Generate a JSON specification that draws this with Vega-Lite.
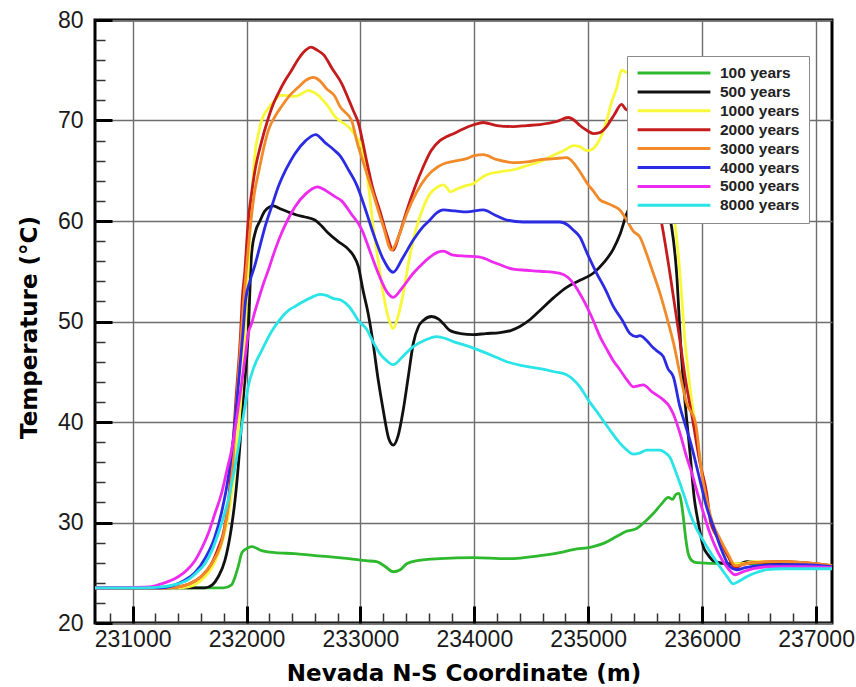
{
"$schema": "https://vega.github.io/schema/vega-lite/v6.json",
"width": 737, "height": 603,
"autosize": {"type": "none"},
"padding": {"left": 95, "top": 20, "right": 24, "bottom": 64},
"background": "white",
"config": {"view": {"stroke": "black", "strokeWidth": 3}, "font": "Liberation Sans"},
"datasets": {"curves": [
{"series":"100 years","x":230670,"t":23.5},{"series":"100 years","x":231500,"t":23.5},{"series":"100 years","x":231800,"t":23.5},{"series":"100 years","x":231869,"t":23.8},{"series":"100 years","x":231900,"t":24.6},{"series":"100 years","x":231927,"t":25.6},{"series":"100 years","x":231960,"t":27.0},{"series":"100 years","x":232000,"t":27.4},{"series":"100 years","x":232045,"t":27.6},{"series":"100 years","x":232133,"t":27.2},{"series":"100 years","x":232250,"t":27.0},{"series":"100 years","x":232425,"t":26.9},{"series":"100 years","x":232600,"t":26.7},{"series":"100 years","x":232717,"t":26.6},{"series":"100 years","x":232900,"t":26.4},{"series":"100 years","x":233050,"t":26.2},{"series":"100 years","x":233142,"t":26.1},{"series":"100 years","x":233220,"t":25.6},{"series":"100 years","x":233288,"t":25.1},{"series":"100 years","x":233350,"t":25.3},{"series":"100 years","x":233406,"t":25.9},{"series":"100 years","x":233500,"t":26.2},{"series":"100 years","x":233698,"t":26.4},{"series":"100 years","x":233990,"t":26.5},{"series":"100 years","x":234284,"t":26.4},{"series":"100 years","x":234576,"t":26.7},{"series":"100 years","x":234750,"t":27.0},{"series":"100 years","x":234869,"t":27.3},{"series":"100 years","x":235044,"t":27.6},{"series":"100 years","x":235150,"t":28.0},{"series":"100 years","x":235249,"t":28.6},{"series":"100 years","x":235330,"t":29.1},{"series":"100 years","x":235425,"t":29.4},{"series":"100 years","x":235500,"t":30.1},{"series":"100 years","x":235571,"t":30.9},{"series":"100 years","x":235640,"t":31.8},{"series":"100 years","x":235703,"t":32.5},{"series":"100 years","x":235740,"t":32.3},{"series":"100 years","x":235770,"t":32.8},{"series":"100 years","x":235798,"t":32.9},{"series":"100 years","x":235820,"t":31.8},{"series":"100 years","x":235834,"t":30.6},{"series":"100 years","x":235855,"t":28.5},{"series":"100 years","x":235878,"t":26.9},{"series":"100 years","x":235910,"t":26.2},{"series":"100 years","x":235952,"t":26.0},{"series":"100 years","x":236186,"t":25.9},{"series":"100 years","x":236400,"t":25.9},{"series":"100 years","x":236700,"t":25.9},{"series":"100 years","x":237140,"t":25.7},
{"series":"500 years","x":230670,"t":23.5},{"series":"500 years","x":231500,"t":23.5},{"series":"500 years","x":231635,"t":23.5},{"series":"500 years","x":231700,"t":23.8},{"series":"500 years","x":231752,"t":24.6},{"series":"500 years","x":231810,"t":26.2},{"series":"500 years","x":231869,"t":29.6},{"series":"500 years","x":231900,"t":32.3},{"series":"500 years","x":231927,"t":35.5},{"series":"500 years","x":231971,"t":42.2},{"series":"500 years","x":232015,"t":48.8},{"series":"500 years","x":232045,"t":56.8},{"series":"500 years","x":232080,"t":59.0},{"series":"500 years","x":232118,"t":60.0},{"series":"500 years","x":232162,"t":61.0},{"series":"500 years","x":232235,"t":61.5},{"series":"500 years","x":232300,"t":61.2},{"series":"500 years","x":232366,"t":60.9},{"series":"500 years","x":232440,"t":60.6},{"series":"500 years","x":232513,"t":60.4},{"series":"500 years","x":232600,"t":60.1},{"series":"500 years","x":232660,"t":59.5},{"series":"500 years","x":232717,"t":58.8},{"series":"500 years","x":232800,"t":58.0},{"series":"500 years","x":232893,"t":57.2},{"series":"500 years","x":232937,"t":56.6},{"series":"500 years","x":232981,"t":55.5},{"series":"500 years","x":233025,"t":53.0},{"series":"500 years","x":233068,"t":50.8},{"series":"500 years","x":233112,"t":47.8},{"series":"500 years","x":233156,"t":44.2},{"series":"500 years","x":233200,"t":41.2},{"series":"500 years","x":233250,"t":38.3},{"series":"500 years","x":233288,"t":37.7},{"series":"500 years","x":233330,"t":38.6},{"series":"500 years","x":233376,"t":41.2},{"series":"500 years","x":233420,"t":44.5},{"series":"500 years","x":233464,"t":47.8},{"series":"500 years","x":233510,"t":49.5},{"series":"500 years","x":233552,"t":50.1},{"series":"500 years","x":233625,"t":50.5},{"series":"500 years","x":233690,"t":50.2},{"series":"500 years","x":233727,"t":49.8},{"series":"500 years","x":233786,"t":49.1},{"series":"500 years","x":233880,"t":48.8},{"series":"500 years","x":233990,"t":48.7},{"series":"500 years","x":234100,"t":48.8},{"series":"500 years","x":234225,"t":48.9},{"series":"500 years","x":234320,"t":49.1},{"series":"500 years","x":234400,"t":49.5},{"series":"500 years","x":234490,"t":50.2},{"series":"500 years","x":234576,"t":51.1},{"series":"500 years","x":234700,"t":52.4},{"series":"500 years","x":234810,"t":53.4},{"series":"500 years","x":234927,"t":54.1},{"series":"500 years","x":235044,"t":54.8},{"series":"500 years","x":235140,"t":55.9},{"series":"500 years","x":235220,"t":57.2},{"series":"500 years","x":235280,"t":58.7},{"series":"500 years","x":235337,"t":60.7},{"series":"500 years","x":235400,"t":62.3},{"series":"500 years","x":235480,"t":63.5},{"series":"500 years","x":235560,"t":64.0},{"series":"500 years","x":235650,"t":63.0},{"series":"500 years","x":235700,"t":61.0},{"series":"500 years","x":235732,"t":59.4},{"series":"500 years","x":235776,"t":54.8},{"series":"500 years","x":235810,"t":48.0},{"series":"500 years","x":235850,"t":42.0},{"series":"500 years","x":235893,"t":37.0},{"series":"500 years","x":235930,"t":32.5},{"series":"500 years","x":235966,"t":30.0},{"series":"500 years","x":236010,"t":27.6},{"series":"500 years","x":236050,"t":26.8},{"series":"500 years","x":236098,"t":26.2},{"series":"500 years","x":236215,"t":25.9},{"series":"500 years","x":236300,"t":25.8},{"series":"500 years","x":236391,"t":26.1},{"series":"500 years","x":236500,"t":26.0},{"series":"500 years","x":236700,"t":25.9},{"series":"500 years","x":237140,"t":25.7},
{"series":"1000 years","x":230670,"t":23.5},{"series":"1000 years","x":231400,"t":23.5},{"series":"1000 years","x":231488,"t":23.6},{"series":"1000 years","x":231560,"t":23.9},{"series":"1000 years","x":231635,"t":24.6},{"series":"1000 years","x":231700,"t":25.6},{"series":"1000 years","x":231752,"t":26.9},{"series":"1000 years","x":231800,"t":28.6},{"series":"1000 years","x":231839,"t":30.6},{"series":"1000 years","x":231880,"t":33.8},{"series":"1000 years","x":231913,"t":37.2},{"series":"1000 years","x":231945,"t":41.5},{"series":"1000 years","x":231971,"t":45.5},{"series":"1000 years","x":232000,"t":52.0},{"series":"1000 years","x":232030,"t":59.0},{"series":"1000 years","x":232074,"t":66.7},{"series":"1000 years","x":232103,"t":68.6},{"series":"1000 years","x":232133,"t":70.0},{"series":"1000 years","x":232190,"t":71.2},{"series":"1000 years","x":232249,"t":72.0},{"series":"1000 years","x":232300,"t":72.5},{"series":"1000 years","x":232337,"t":72.5},{"series":"1000 years","x":232425,"t":72.4},{"series":"1000 years","x":232490,"t":72.7},{"series":"1000 years","x":232542,"t":73.0},{"series":"1000 years","x":232590,"t":72.8},{"series":"1000 years","x":232630,"t":72.5},{"series":"1000 years","x":232680,"t":71.9},{"series":"1000 years","x":232717,"t":71.4},{"series":"1000 years","x":232776,"t":70.4},{"series":"1000 years","x":232830,"t":69.9},{"series":"1000 years","x":232893,"t":69.4},{"series":"1000 years","x":232950,"t":68.6},{"series":"1000 years","x":233010,"t":67.4},{"series":"1000 years","x":233060,"t":64.5},{"series":"1000 years","x":233112,"t":59.4},{"series":"1000 years","x":233160,"t":55.8},{"series":"1000 years","x":233200,"t":52.8},{"series":"1000 years","x":233250,"t":50.2},{"series":"1000 years","x":233288,"t":49.3},{"series":"1000 years","x":233330,"t":50.5},{"series":"1000 years","x":233376,"t":52.8},{"series":"1000 years","x":233430,"t":56.3},{"series":"1000 years","x":233493,"t":59.4},{"series":"1000 years","x":233550,"t":61.3},{"series":"1000 years","x":233610,"t":62.7},{"series":"1000 years","x":233680,"t":63.4},{"series":"1000 years","x":233727,"t":63.6},{"series":"1000 years","x":233760,"t":63.3},{"series":"1000 years","x":233786,"t":62.9},{"series":"1000 years","x":233850,"t":63.2},{"series":"1000 years","x":233920,"t":63.5},{"series":"1000 years","x":233990,"t":63.7},{"series":"1000 years","x":234050,"t":64.2},{"series":"1000 years","x":234108,"t":64.6},{"series":"1000 years","x":234220,"t":64.9},{"series":"1000 years","x":234342,"t":65.1},{"series":"1000 years","x":234460,"t":65.5},{"series":"1000 years","x":234576,"t":65.9},{"series":"1000 years","x":234650,"t":66.3},{"series":"1000 years","x":234723,"t":66.7},{"series":"1000 years","x":234800,"t":67.1},{"series":"1000 years","x":234869,"t":67.5},{"series":"1000 years","x":234927,"t":67.4},{"series":"1000 years","x":234986,"t":67.0},{"series":"1000 years","x":235030,"t":67.1},{"series":"1000 years","x":235074,"t":67.6},{"series":"1000 years","x":235120,"t":68.6},{"series":"1000 years","x":235161,"t":70.0},{"series":"1000 years","x":235210,"t":72.0},{"series":"1000 years","x":235249,"t":73.2},{"series":"1000 years","x":235293,"t":75.0},{"series":"1000 years","x":235337,"t":74.8},{"series":"1000 years","x":235400,"t":74.8},{"series":"1000 years","x":235500,"t":74.5},{"series":"1000 years","x":235600,"t":71.5},{"series":"1000 years","x":235680,"t":66.0},{"series":"1000 years","x":235720,"t":63.0},{"series":"1000 years","x":235761,"t":59.8},{"series":"1000 years","x":235805,"t":54.8},{"series":"1000 years","x":235849,"t":48.1},{"series":"1000 years","x":235893,"t":43.5},{"series":"1000 years","x":235942,"t":39.5},{"series":"1000 years","x":235990,"t":35.5},{"series":"1000 years","x":236040,"t":32.6},{"series":"1000 years","x":236080,"t":30.0},{"series":"1000 years","x":236156,"t":28.0},{"series":"1000 years","x":236229,"t":26.6},{"series":"1000 years","x":236290,"t":25.9},{"series":"1000 years","x":236350,"t":25.9},{"series":"1000 years","x":236449,"t":26.1},{"series":"1000 years","x":236683,"t":26.1},{"series":"1000 years","x":236900,"t":26.0},{"series":"1000 years","x":237140,"t":25.7},
{"series":"2000 years","x":230670,"t":23.5},{"series":"2000 years","x":231300,"t":23.5},{"series":"2000 years","x":231400,"t":23.6},{"series":"2000 years","x":231500,"t":23.9},{"series":"2000 years","x":231600,"t":24.6},{"series":"2000 years","x":231693,"t":25.9},{"series":"2000 years","x":231750,"t":27.4},{"series":"2000 years","x":231796,"t":28.9},{"series":"2000 years","x":231835,"t":31.5},{"series":"2000 years","x":231869,"t":35.5},{"series":"2000 years","x":231907,"t":42.2},{"series":"2000 years","x":231948,"t":48.8},{"series":"2000 years","x":231962,"t":52.1},{"series":"2000 years","x":231986,"t":55.1},{"series":"2000 years","x":232015,"t":60.0},{"series":"2000 years","x":232045,"t":62.8},{"series":"2000 years","x":232074,"t":65.0},{"series":"2000 years","x":232130,"t":67.8},{"series":"2000 years","x":232185,"t":70.0},{"series":"2000 years","x":232230,"t":71.5},{"series":"2000 years","x":232279,"t":72.7},{"series":"2000 years","x":232340,"t":74.0},{"series":"2000 years","x":232396,"t":75.0},{"series":"2000 years","x":232460,"t":76.2},{"series":"2000 years","x":232520,"t":77.0},{"series":"2000 years","x":232565,"t":77.3},{"series":"2000 years","x":232620,"t":77.0},{"series":"2000 years","x":232680,"t":76.5},{"series":"2000 years","x":232750,"t":75.2},{"series":"2000 years","x":232835,"t":73.7},{"series":"2000 years","x":232900,"t":72.0},{"series":"2000 years","x":232937,"t":71.0},{"series":"2000 years","x":232981,"t":69.8},{"series":"2000 years","x":233054,"t":66.0},{"series":"2000 years","x":233110,"t":63.2},{"series":"2000 years","x":233171,"t":61.0},{"series":"2000 years","x":233230,"t":58.7},{"series":"2000 years","x":233288,"t":57.1},{"series":"2000 years","x":233340,"t":58.6},{"series":"2000 years","x":233406,"t":61.0},{"series":"2000 years","x":233480,"t":63.4},{"series":"2000 years","x":233552,"t":65.4},{"series":"2000 years","x":233620,"t":67.0},{"series":"2000 years","x":233698,"t":68.0},{"series":"2000 years","x":233757,"t":68.4},{"series":"2000 years","x":233800,"t":68.6},{"series":"2000 years","x":233873,"t":69.0},{"series":"2000 years","x":233950,"t":69.4},{"series":"2000 years","x":234000,"t":69.6},{"series":"2000 years","x":234078,"t":69.8},{"series":"2000 years","x":234200,"t":69.5},{"series":"2000 years","x":234342,"t":69.4},{"series":"2000 years","x":234460,"t":69.5},{"series":"2000 years","x":234576,"t":69.6},{"series":"2000 years","x":234723,"t":69.9},{"series":"2000 years","x":234824,"t":70.3},{"series":"2000 years","x":234880,"t":70.0},{"series":"2000 years","x":234927,"t":69.5},{"series":"2000 years","x":234990,"t":69.0},{"series":"2000 years","x":235044,"t":68.7},{"series":"2000 years","x":235100,"t":68.8},{"series":"2000 years","x":235161,"t":69.4},{"series":"2000 years","x":235230,"t":70.6},{"series":"2000 years","x":235293,"t":71.6},{"series":"2000 years","x":235330,"t":71.1},{"series":"2000 years","x":235351,"t":71.0},{"series":"2000 years","x":235400,"t":70.0},{"series":"2000 years","x":235470,"t":67.5},{"series":"2000 years","x":235550,"t":64.0},{"series":"2000 years","x":235644,"t":59.8},{"series":"2000 years","x":235717,"t":54.8},{"series":"2000 years","x":235805,"t":48.1},{"series":"2000 years","x":235850,"t":44.5},{"series":"2000 years","x":235920,"t":40.0},{"series":"2000 years","x":235980,"t":36.0},{"series":"2000 years","x":236040,"t":32.9},{"series":"2000 years","x":236075,"t":30.0},{"series":"2000 years","x":236156,"t":28.2},{"series":"2000 years","x":236229,"t":26.6},{"series":"2000 years","x":236290,"t":25.5},{"series":"2000 years","x":236350,"t":25.8},{"series":"2000 years","x":236449,"t":26.0},{"series":"2000 years","x":236683,"t":26.1},{"series":"2000 years","x":236900,"t":26.0},{"series":"2000 years","x":237140,"t":25.7},
{"series":"3000 years","x":230670,"t":23.5},{"series":"3000 years","x":231300,"t":23.5},{"series":"3000 years","x":231400,"t":23.6},{"series":"3000 years","x":231500,"t":23.9},{"series":"3000 years","x":231600,"t":24.6},{"series":"3000 years","x":231700,"t":26.0},{"series":"3000 years","x":231800,"t":28.9},{"series":"3000 years","x":231845,"t":32.0},{"series":"3000 years","x":231878,"t":35.5},{"series":"3000 years","x":231915,"t":42.2},{"series":"3000 years","x":231955,"t":48.8},{"series":"3000 years","x":231975,"t":52.1},{"series":"3000 years","x":231998,"t":55.1},{"series":"3000 years","x":232039,"t":60.0},{"series":"3000 years","x":232070,"t":62.8},{"series":"3000 years","x":232109,"t":65.0},{"series":"3000 years","x":232150,"t":67.2},{"series":"3000 years","x":232191,"t":69.0},{"series":"3000 years","x":232250,"t":70.4},{"series":"3000 years","x":232308,"t":71.4},{"series":"3000 years","x":232380,"t":72.5},{"series":"3000 years","x":232454,"t":73.3},{"series":"3000 years","x":232520,"t":74.0},{"series":"3000 years","x":232586,"t":74.3},{"series":"3000 years","x":232640,"t":74.0},{"series":"3000 years","x":232700,"t":73.2},{"series":"3000 years","x":232776,"t":72.4},{"series":"3000 years","x":232820,"t":71.4},{"series":"3000 years","x":232923,"t":70.0},{"series":"3000 years","x":232967,"t":68.0},{"series":"3000 years","x":233040,"t":65.3},{"series":"3000 years","x":233112,"t":62.7},{"series":"3000 years","x":233200,"t":59.5},{"series":"3000 years","x":233274,"t":57.1},{"series":"3000 years","x":233330,"t":58.3},{"series":"3000 years","x":233406,"t":60.7},{"series":"3000 years","x":233490,"t":62.8},{"series":"3000 years","x":233581,"t":64.4},{"series":"3000 years","x":233680,"t":65.4},{"series":"3000 years","x":233757,"t":65.8},{"series":"3000 years","x":233850,"t":66.0},{"series":"3000 years","x":233932,"t":66.2},{"series":"3000 years","x":234000,"t":66.5},{"series":"3000 years","x":234078,"t":66.6},{"series":"3000 years","x":234200,"t":66.1},{"series":"3000 years","x":234371,"t":65.8},{"series":"3000 years","x":234480,"t":65.9},{"series":"3000 years","x":234576,"t":66.1},{"series":"3000 years","x":234700,"t":66.2},{"series":"3000 years","x":234810,"t":66.3},{"series":"3000 years","x":234870,"t":65.8},{"series":"3000 years","x":234927,"t":64.9},{"series":"3000 years","x":235000,"t":63.6},{"series":"3000 years","x":235044,"t":63.0},{"series":"3000 years","x":235103,"t":62.1},{"series":"3000 years","x":235161,"t":61.8},{"series":"3000 years","x":235220,"t":61.5},{"series":"3000 years","x":235278,"t":61.1},{"series":"3000 years","x":235337,"t":60.1},{"series":"3000 years","x":235395,"t":59.0},{"series":"3000 years","x":235454,"t":58.4},{"series":"3000 years","x":235510,"t":56.8},{"series":"3000 years","x":235571,"t":54.8},{"series":"3000 years","x":235630,"t":52.8},{"series":"3000 years","x":235688,"t":50.5},{"series":"3000 years","x":235750,"t":47.8},{"series":"3000 years","x":235805,"t":44.8},{"series":"3000 years","x":235860,"t":42.0},{"series":"3000 years","x":235942,"t":39.9},{"series":"3000 years","x":235995,"t":35.0},{"series":"3000 years","x":236045,"t":32.0},{"series":"3000 years","x":236090,"t":30.0},{"series":"3000 years","x":236160,"t":28.3},{"series":"3000 years","x":236230,"t":26.8},{"series":"3000 years","x":236290,"t":25.7},{"series":"3000 years","x":236350,"t":25.8},{"series":"3000 years","x":236449,"t":26.0},{"series":"3000 years","x":236683,"t":26.1},{"series":"3000 years","x":236900,"t":26.0},{"series":"3000 years","x":237140,"t":25.7},
{"series":"4000 years","x":230670,"t":23.5},{"series":"4000 years","x":231250,"t":23.5},{"series":"4000 years","x":231350,"t":23.7},{"series":"4000 years","x":231450,"t":24.2},{"series":"4000 years","x":231547,"t":25.0},{"series":"4000 years","x":231640,"t":26.5},{"series":"4000 years","x":231720,"t":28.5},{"series":"4000 years","x":231781,"t":31.0},{"series":"4000 years","x":231840,"t":34.5},{"series":"4000 years","x":231890,"t":39.0},{"series":"4000 years","x":231935,"t":44.5},{"series":"4000 years","x":231970,"t":49.0},{"series":"4000 years","x":231992,"t":52.1},{"series":"4000 years","x":232030,"t":54.0},{"series":"4000 years","x":232074,"t":55.6},{"series":"4000 years","x":232118,"t":57.5},{"series":"4000 years","x":232162,"t":59.4},{"series":"4000 years","x":232220,"t":61.4},{"series":"4000 years","x":232279,"t":63.4},{"series":"4000 years","x":232350,"t":65.2},{"series":"4000 years","x":232425,"t":66.7},{"series":"4000 years","x":232520,"t":68.0},{"series":"4000 years","x":232607,"t":68.6},{"series":"4000 years","x":232690,"t":67.8},{"series":"4000 years","x":232776,"t":67.0},{"series":"4000 years","x":232820,"t":66.5},{"series":"4000 years","x":232900,"t":65.0},{"series":"4000 years","x":232967,"t":63.6},{"series":"4000 years","x":233040,"t":61.3},{"series":"4000 years","x":233112,"t":58.8},{"series":"4000 years","x":233200,"t":56.2},{"series":"4000 years","x":233288,"t":54.9},{"series":"4000 years","x":233370,"t":56.3},{"series":"4000 years","x":233464,"t":58.1},{"series":"4000 years","x":233540,"t":59.3},{"series":"4000 years","x":233610,"t":60.1},{"series":"4000 years","x":233670,"t":60.8},{"series":"4000 years","x":233727,"t":61.1},{"series":"4000 years","x":233830,"t":61.0},{"series":"4000 years","x":233932,"t":60.9},{"series":"4000 years","x":234078,"t":61.1},{"series":"4000 years","x":234180,"t":60.6},{"series":"4000 years","x":234284,"t":60.1},{"series":"4000 years","x":234430,"t":59.9},{"series":"4000 years","x":234576,"t":59.9},{"series":"4000 years","x":234752,"t":59.9},{"series":"4000 years","x":234820,"t":59.6},{"series":"4000 years","x":234869,"t":59.1},{"series":"4000 years","x":234927,"t":58.4},{"series":"4000 years","x":234990,"t":56.8},{"series":"4000 years","x":235074,"t":54.8},{"series":"4000 years","x":235150,"t":53.2},{"series":"4000 years","x":235220,"t":51.5},{"series":"4000 years","x":235300,"t":50.1},{"series":"4000 years","x":235366,"t":48.8},{"series":"4000 years","x":235420,"t":48.5},{"series":"4000 years","x":235454,"t":48.6},{"series":"4000 years","x":235513,"t":48.1},{"series":"4000 years","x":235560,"t":47.5},{"series":"4000 years","x":235600,"t":47.1},{"series":"4000 years","x":235659,"t":46.5},{"series":"4000 years","x":235700,"t":45.3},{"series":"4000 years","x":235747,"t":44.5},{"series":"4000 years","x":235805,"t":41.5},{"series":"4000 years","x":235850,"t":39.8},{"series":"4000 years","x":235893,"t":38.2},{"series":"4000 years","x":235981,"t":34.2},{"series":"4000 years","x":236040,"t":31.5},{"series":"4000 years","x":236098,"t":29.6},{"series":"4000 years","x":236170,"t":27.3},{"series":"4000 years","x":236244,"t":25.6},{"series":"4000 years","x":236302,"t":25.3},{"series":"4000 years","x":236380,"t":25.5},{"series":"4000 years","x":236500,"t":25.7},{"series":"4000 years","x":236700,"t":25.8},{"series":"4000 years","x":236900,"t":25.8},{"series":"4000 years","x":237140,"t":25.6},
{"series":"5000 years","x":230670,"t":23.5},{"series":"5000 years","x":231150,"t":23.6},{"series":"5000 years","x":231255,"t":23.9},{"series":"5000 years","x":231330,"t":24.2},{"series":"5000 years","x":231400,"t":24.6},{"series":"5000 years","x":231480,"t":25.3},{"series":"5000 years","x":231547,"t":26.2},{"series":"5000 years","x":231610,"t":27.5},{"series":"5000 years","x":231664,"t":28.9},{"series":"5000 years","x":231720,"t":30.8},{"series":"5000 years","x":231781,"t":32.9},{"series":"5000 years","x":231830,"t":35.3},{"series":"5000 years","x":231869,"t":37.2},{"series":"5000 years","x":231915,"t":40.5},{"series":"5000 years","x":231957,"t":43.8},{"series":"5000 years","x":231990,"t":46.6},{"series":"5000 years","x":232015,"t":48.8},{"series":"5000 years","x":232045,"t":49.8},{"series":"5000 years","x":232074,"t":51.0},{"series":"5000 years","x":232103,"t":52.1},{"series":"5000 years","x":232150,"t":53.8},{"series":"5000 years","x":232191,"t":55.1},{"series":"5000 years","x":232250,"t":57.1},{"series":"5000 years","x":232308,"t":58.8},{"series":"5000 years","x":232370,"t":60.3},{"series":"5000 years","x":232425,"t":61.4},{"series":"5000 years","x":232520,"t":62.7},{"series":"5000 years","x":232624,"t":63.4},{"series":"5000 years","x":232700,"t":63.0},{"series":"5000 years","x":232780,"t":62.4},{"series":"5000 years","x":232835,"t":62.0},{"series":"5000 years","x":232920,"t":60.7},{"series":"5000 years","x":233010,"t":59.2},{"series":"5000 years","x":233090,"t":56.8},{"series":"5000 years","x":233171,"t":54.4},{"series":"5000 years","x":233230,"t":53.0},{"series":"5000 years","x":233288,"t":52.4},{"series":"5000 years","x":233370,"t":53.4},{"series":"5000 years","x":233464,"t":54.8},{"series":"5000 years","x":233540,"t":55.7},{"series":"5000 years","x":233610,"t":56.4},{"series":"5000 years","x":233680,"t":56.9},{"series":"5000 years","x":233727,"t":57.0},{"series":"5000 years","x":233815,"t":56.6},{"series":"5000 years","x":233930,"t":56.5},{"series":"5000 years","x":234049,"t":56.4},{"series":"5000 years","x":234166,"t":55.9},{"series":"5000 years","x":234260,"t":55.5},{"series":"5000 years","x":234342,"t":55.2},{"series":"5000 years","x":234460,"t":55.1},{"series":"5000 years","x":234576,"t":55.0},{"series":"5000 years","x":234752,"t":54.8},{"series":"5000 years","x":234820,"t":54.4},{"series":"5000 years","x":234869,"t":53.8},{"series":"5000 years","x":234950,"t":52.3},{"series":"5000 years","x":235044,"t":50.1},{"series":"5000 years","x":235103,"t":48.5},{"series":"5000 years","x":235160,"t":47.3},{"series":"5000 years","x":235220,"t":46.1},{"series":"5000 years","x":235278,"t":45.2},{"series":"5000 years","x":235340,"t":44.2},{"series":"5000 years","x":235395,"t":43.5},{"series":"5000 years","x":235440,"t":43.6},{"series":"5000 years","x":235483,"t":43.7},{"series":"5000 years","x":235560,"t":43.0},{"series":"5000 years","x":235659,"t":42.2},{"series":"5000 years","x":235710,"t":41.6},{"series":"5000 years","x":235747,"t":40.8},{"series":"5000 years","x":235805,"t":38.9},{"series":"5000 years","x":235864,"t":36.5},{"series":"5000 years","x":235910,"t":34.9},{"series":"5000 years","x":235952,"t":33.2},{"series":"5000 years","x":236010,"t":31.0},{"series":"5000 years","x":236069,"t":28.9},{"series":"5000 years","x":236140,"t":27.0},{"series":"5000 years","x":236215,"t":25.6},{"series":"5000 years","x":236288,"t":24.8},{"series":"5000 years","x":236360,"t":25.1},{"series":"5000 years","x":236449,"t":25.4},{"series":"5000 years","x":236600,"t":25.6},{"series":"5000 years","x":236900,"t":25.6},{"series":"5000 years","x":237140,"t":25.5},
{"series":"8000 years","x":230670,"t":23.5},{"series":"8000 years","x":231100,"t":23.5},{"series":"8000 years","x":231255,"t":23.6},{"series":"8000 years","x":231400,"t":23.9},{"series":"8000 years","x":231488,"t":24.3},{"series":"8000 years","x":231560,"t":25.0},{"series":"8000 years","x":231635,"t":25.9},{"series":"8000 years","x":231700,"t":27.3},{"series":"8000 years","x":231752,"t":28.9},{"series":"8000 years","x":231800,"t":30.6},{"series":"8000 years","x":231839,"t":32.2},{"series":"8000 years","x":231870,"t":33.9},{"series":"8000 years","x":231898,"t":35.5},{"series":"8000 years","x":231930,"t":37.6},{"series":"8000 years","x":231957,"t":39.5},{"series":"8000 years","x":231990,"t":41.8},{"series":"8000 years","x":232015,"t":43.5},{"series":"8000 years","x":232070,"t":45.6},{"series":"8000 years","x":232133,"t":47.1},{"series":"8000 years","x":232220,"t":49.0},{"series":"8000 years","x":232308,"t":50.4},{"series":"8000 years","x":232380,"t":51.2},{"series":"8000 years","x":232425,"t":51.5},{"series":"8000 years","x":232500,"t":52.0},{"series":"8000 years","x":232572,"t":52.4},{"series":"8000 years","x":232644,"t":52.7},{"series":"8000 years","x":232700,"t":52.6},{"series":"8000 years","x":232760,"t":52.3},{"series":"8000 years","x":232835,"t":52.1},{"series":"8000 years","x":232900,"t":51.5},{"series":"8000 years","x":232996,"t":49.9},{"series":"8000 years","x":233050,"t":49.3},{"series":"8000 years","x":233110,"t":48.0},{"series":"8000 years","x":233171,"t":46.8},{"series":"8000 years","x":233230,"t":46.1},{"series":"8000 years","x":233288,"t":45.7},{"series":"8000 years","x":233370,"t":46.5},{"series":"8000 years","x":233464,"t":47.5},{"series":"8000 years","x":233560,"t":48.1},{"series":"8000 years","x":233669,"t":48.5},{"series":"8000 years","x":233750,"t":48.3},{"series":"8000 years","x":233815,"t":48.0},{"series":"8000 years","x":233930,"t":47.6},{"series":"8000 years","x":234049,"t":47.1},{"series":"8000 years","x":234160,"t":46.6},{"series":"8000 years","x":234284,"t":46.0},{"series":"8000 years","x":234420,"t":45.6},{"series":"8000 years","x":234576,"t":45.3},{"series":"8000 years","x":234700,"t":45.0},{"series":"8000 years","x":234810,"t":44.7},{"series":"8000 years","x":234870,"t":44.2},{"series":"8000 years","x":234927,"t":43.5},{"series":"8000 years","x":235000,"t":42.2},{"series":"8000 years","x":235103,"t":40.6},{"series":"8000 years","x":235190,"t":39.2},{"series":"8000 years","x":235278,"t":37.9},{"series":"8000 years","x":235340,"t":37.2},{"series":"8000 years","x":235395,"t":36.8},{"series":"8000 years","x":235450,"t":36.9},{"series":"8000 years","x":235513,"t":37.2},{"series":"8000 years","x":235630,"t":37.2},{"series":"8000 years","x":235680,"t":36.9},{"series":"8000 years","x":235717,"t":36.5},{"series":"8000 years","x":235760,"t":35.3},{"series":"8000 years","x":235805,"t":33.9},{"series":"8000 years","x":235850,"t":32.4},{"series":"8000 years","x":235893,"t":30.9},{"series":"8000 years","x":235950,"t":29.4},{"series":"8000 years","x":236010,"t":28.2},{"series":"8000 years","x":236080,"t":26.9},{"series":"8000 years","x":236156,"t":25.6},{"series":"8000 years","x":236220,"t":24.6},{"series":"8000 years","x":236273,"t":23.9},{"series":"8000 years","x":236330,"t":24.2},{"series":"8000 years","x":236391,"t":24.6},{"series":"8000 years","x":236470,"t":25.0},{"series":"8000 years","x":236566,"t":25.3},{"series":"8000 years","x":236700,"t":25.4},{"series":"8000 years","x":236900,"t":25.4},{"series":"8000 years","x":237140,"t":25.4}
]},
"layer": [
{
"data": {"values": []},
"mark": {"type": "rule"},
"encoding": {
"x": {"field": "x", "type": "quantitative",
"axis": {"orient": "bottom", "values": [230800,231200,231400,231600,231800,232200,232400,232600,232800,233200,233400,233600,233800,234200,234400,234600,234800,235200,235400,235600,235800,236200,236400,236600,236800], "labels": false, "grid": false, "domain": false, "tickSize": -10, "tickWidth": 1.5, "tickColor": "#333", "title": null}},
"y": {"field": "t", "type": "quantitative",
"axis": {"orient": "left", "values": [22,24,26,28,32,34,36,38,42,44,46,48,52,54,56,58,62,64,66,68,72,74,76,78], "labels": false, "grid": false, "domain": false, "tickSize": -10, "tickWidth": 1.5, "tickColor": "#333", "title": null}}
}
},
{
"data": {"name": "curves"},
"mark": {"type": "line", "strokeWidth": 2.8, "interpolate": "monotone"},
"encoding": {
"x": {"field": "x", "type": "quantitative",
"scale": {"domain": [230670, 237140], "nice": false, "zero": false},
"axis": {"orient": "bottom", "values": [231000,232000,233000,234000,235000,236000,237000], "format": "d", "grid": true, "gridColor": "#6e6e6e", "gridWidth": 1.4, "gridOpacity": 1, "domain": false, "tickSize": -17, "tickWidth": 3, "tickColor": "black", "labelPadding": 22, "labelFont": "Liberation Sans", "labelFontSize": 23, "labelColor": "#1a1a1a", "title": "Nevada N-S Coordinate (m)", "titleFont": "DejaVu Sans", "titleFontSize": 23, "titleFontWeight": "bold", "titleColor": "black", "titleBaseline": "alphabetic", "titleY": 57}},
"y": {"field": "t", "type": "quantitative",
"scale": {"domain": [20, 80], "nice": false, "zero": false},
"axis": {"orient": "left", "values": [20,30,40,50,60,70,80], "grid": true, "gridColor": "#6e6e6e", "gridWidth": 1.4, "gridOpacity": 1, "domain": false, "tickSize": -17, "tickWidth": 3, "tickColor": "black", "labelPadding": 29, "labelFont": "Liberation Sans", "labelFontSize": 23, "labelColor": "#1a1a1a", "title": "Temperature (°C)", "titleFont": "DejaVu Sans", "titleFontSize": 23, "titleFontWeight": "bold", "titleColor": "black", "titleAngle": 270, "titleAlign": "center", "titleBaseline": "alphabetic", "titleX": -59, "titleY": 307}},
"color": {"field": "series", "type": "nominal",
"scale": {"domain": ["100 years","500 years","1000 years","2000 years","3000 years","4000 years","5000 years","8000 years"], "range": ["#2db82d","#111111","#f8f83a","#c41c1c","#f28a2a","#2b2be3","#ee2aee","#2ae4e8"]},
"legend": {"orient": "none", "legendX": 532, "legendY": 36, "title": null, "symbolType": "stroke", "symbolSize": 5300, "symbolStrokeWidth": 3, "clipHeight": 16, "rowPadding": 1.9, "labelFont": "Liberation Sans", "labelFontSize": 15.5, "labelFontWeight": "bold", "labelColor": "#222", "labelOffset": 8, "padding": 9, "strokeColor": "#8a8a8a", "fillColor": "white"}}
}
}
],
"resolve": {"axis": {"x": "independent", "y": "independent"}}
}
